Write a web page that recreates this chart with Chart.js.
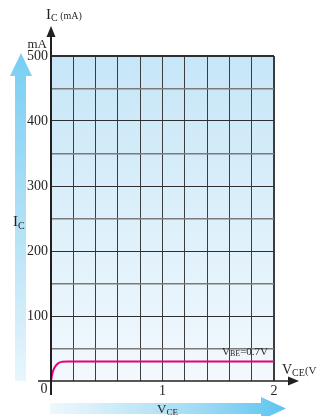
<!DOCTYPE html>
<html>
<head>
<meta charset="utf-8">
<script src="https://cdn.jsdelivr.net/npm/chart.js@4/dist/chart.umd.min.js"></script>
<style>
html,body{margin:0;padding:0;background:#fff;}
#wrap{width:317px;height:416px;position:relative;}
</style>
</head>
<body>
<div id="wrap"><canvas id="c" width="317" height="416"></canvas></div>
<script>
// Data
const vceValues = [0, 0.01, 0.02, 0.03, 0.05, 0.07, 0.1, 0.15, 2];
const icValues  = [0, 10, 16, 20, 25, 28, 29.5, 30, 30];
const yTickLabels = [100, 200, 300, 400, 500];
const xTickLabels = [1, 2];
const curveLabel = 'VBE=0.7V';

const SERIF = '"Liberation Serif", "DejaVu Serif", serif';
const TXT = '#231f20';

function drawSub(ctx, main, sub, x, y, mainSize, subSize, subDy, rest, restSize) {
  ctx.font = mainSize + 'px ' + SERIF;
  ctx.textBaseline = 'alphabetic';
  ctx.textAlign = 'left';
  ctx.fillText(main, x, y);
  let w = ctx.measureText(main).width;
  ctx.font = subSize + 'px ' + SERIF;
  ctx.fillText(sub, x + w, y + subDy);
  let w2 = ctx.measureText(sub).width;
  if (rest) {
    ctx.font = (restSize || mainSize) + 'px ' + SERIF;
    ctx.fillText(rest, x + w + w2, y);
  }
}

const decor = {
  id: 'decor',
  beforeDraw(chart) {
    const {ctx, chartArea: a} = chart;
    ctx.save();
    const g = ctx.createLinearGradient(0, a.top, 0, a.bottom);
    g.addColorStop(0, '#c6e6f8');
    g.addColorStop(1, '#f3f9fd');
    ctx.fillStyle = g;
    ctx.fillRect(a.left, a.top, a.right - a.left, a.bottom - a.top);

    // left decorative arrow
    const lg = ctx.createLinearGradient(0, 53, 0, 381);
    lg.addColorStop(0, '#78cef4');
    lg.addColorStop(0.5, '#b0e0f6');
    lg.addColorStop(1, '#e8f6fc');
    ctx.fillStyle = lg;
    ctx.beginPath();
    ctx.moveTo(21, 53);
    ctx.lineTo(32, 76);
    ctx.lineTo(26, 76);
    ctx.lineTo(26, 381);
    ctx.lineTo(15, 381);
    ctx.lineTo(15, 76);
    ctx.lineTo(10, 76);
    ctx.closePath();
    ctx.fill();

    // bottom decorative arrow
    const bg = ctx.createLinearGradient(50, 0, 286, 0);
    bg.addColorStop(0, '#eef8fd');
    bg.addColorStop(0.6, '#a5dcf5');
    bg.addColorStop(1, '#5ec4f1');
    ctx.fillStyle = bg;
    ctx.beginPath();
    ctx.moveTo(50, 403);
    ctx.lineTo(261, 403);
    ctx.lineTo(261, 397);
    ctx.lineTo(286, 408.5);
    ctx.lineTo(261, 420);
    ctx.lineTo(261, 414);
    ctx.lineTo(50, 414);
    ctx.closePath();
    ctx.fill();
    ctx.restore();
  },
  afterDraw(chart) {
    const {ctx, chartArea: a, scales} = chart;
    const x0 = scales.x.getPixelForValue(0);
    const y0 = scales.y.getPixelForValue(0);
    ctx.save();
    ctx.strokeStyle = '#231f20';
    ctx.fillStyle = '#231f20';
    ctx.lineWidth = 2;
    // y axis
    ctx.beginPath();
    ctx.moveTo(x0, 395);
    ctx.lineTo(x0, 34);
    ctx.stroke();
    ctx.beginPath();
    ctx.moveTo(x0, 26);
    ctx.lineTo(x0 + 4.5, 37);
    ctx.lineTo(x0 - 4.5, 37);
    ctx.closePath();
    ctx.fill();
    // x axis
    ctx.lineWidth = 1.5;
    ctx.beginPath();
    ctx.moveTo(38, y0);
    ctx.lineTo(291, y0);
    ctx.stroke();
    ctx.beginPath();
    ctx.moveTo(299, y0);
    ctx.lineTo(288, y0 - 4.5);
    ctx.lineTo(288, y0 + 4.5);
    ctx.closePath();
    ctx.fill();

    ctx.fillStyle = TXT;
    // origin label
    ctx.font = '14px ' + SERIF;
    ctx.textAlign = 'center';
    ctx.textBaseline = 'middle';
    ctx.fillText('0', 44, 389);
    // mA above 500
    ctx.font = '13px ' + SERIF;
    ctx.textAlign = 'right';
    ctx.textBaseline = 'alphabetic';
    ctx.fillText('mA', 47, 48);
    // top title
    drawSub(ctx, 'I', 'C', 46, 19, 15, 10, 2, ' (mA)', 10);
    // right axis title
    drawSub(ctx, 'V', 'CE', 282, 374, 14, 10, 2, '(V', 11);
    // left arrow label
    drawSub(ctx, 'I', 'C', 13, 226, 15, 10, 3);
    // bottom arrow label
    drawSub(ctx, 'V', 'CE', 157, 413, 13, 9, 2);
    // curve label
    const yl = scales.y.getPixelForValue(icValues[icValues.length - 1]) - 7;
    drawSub(ctx, 'V', 'BE', 222, yl, 11, 8, 1, '=0.7V', 11);
    ctx.restore();
  }
};

new Chart(document.getElementById('c'), {
  type: 'line',
  data: {
    datasets: [{
      label: curveLabel,
      data: vceValues.map((v, i) => ({x: v, y: icValues[i]})),
      borderColor: '#e5007d',
      borderWidth: 2,
      pointRadius: 0,
      fill: false,
      cubicInterpolationMode: 'monotone'
    }]
  },
  options: {
    responsive: false,
    animation: false,
    layout: {padding: {top: 56, right: 43, left: 0, bottom: 0}},
    plugins: {legend: {display: false}, tooltip: {enabled: false}},
    scales: {
      x: {
        type: 'linear', min: 0, max: 2,
        afterFit(s) { s.height = 35; },
        border: {display: false},
        grid: {
          color: ctx => (ctx.tick && ctx.tick.value === 0) ? 'rgba(0,0,0,0)' : '#3d3d3d',
          lineWidth: ctx => (ctx.tick && ctx.tick.value === 2) ? 2 : 1,
          drawTicks: false
        },
        ticks: {
          stepSize: 0.2,
          autoSkip: false,
          maxRotation: 0,
          padding: 2,
          color: TXT,
          font: {family: SERIF, size: 14},
          callback: v => xTickLabels.includes(Math.round(v * 1000) / 1000) ? String(Math.round(v)) : ''
        }
      },
      y: {
        type: 'linear', min: 0, max: 500,
        afterFit(s) { s.width = 51; },
        border: {display: false},
        grid: {
          color: ctx => {
            if (!ctx.tick) return '#3d3d3d';
            const v = ctx.tick.value;
            if (v === 0) return 'rgba(0,0,0,0)';
            return v % 100 === 0 ? '#2f2f2f' : '#7a7a7a';
          },
          lineWidth: ctx => (ctx.tick && ctx.tick.value === 500) ? 2 : (ctx.tick && ctx.tick.value % 100 !== 0 ? 1.5 : 1),
          drawTicks: false
        },
        ticks: {
          stepSize: 50,
          autoSkip: false,
          padding: 3,
          color: TXT,
          font: {family: SERIF, size: 14},
          callback: v => yTickLabels.includes(v) ? String(v) : ''
        }
      }
    }
  },
  plugins: [decor]
});
</script>
</body>
</html>
